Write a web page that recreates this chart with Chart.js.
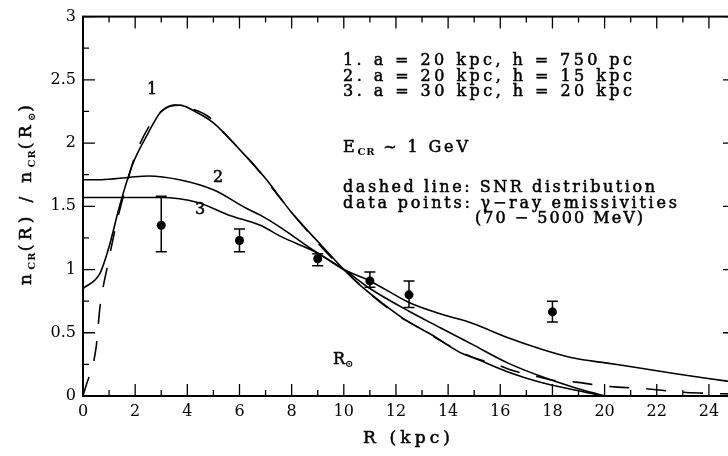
<!DOCTYPE html>
<html>
<head>
<meta charset="utf-8">
<script src="https://cdn.jsdelivr.net/npm/chart.js@4.4.1/dist/chart.umd.min.js"></script>
<style>
  html, body { margin: 0; padding: 0; background: #fff; overflow: hidden; }
  #wrap { width: 728px; height: 456px; overflow: hidden; }
</style>
</head>
<body>
<div id="wrap"><canvas id="c" width="740" height="456"></canvas></div>
<script>
// galactocentric radius R (kpc) and n_CR(R)/n_CR(Rsun)
const r1 = [0, 0.65, 1.0, 1.4, 1.9, 2.45, 3.0, 3.7, 4.3, 5.0, 6.0, 7.0, 8.0, 9.1, 10.0, 10.6, 11.5, 12.3, 13.4, 14.5, 15.0, 16.3, 17.5, 18.8, 20.0];
const n1 = [0.85, 0.97, 1.18, 1.50, 1.83, 2.06, 2.25, 2.30, 2.25, 2.16, 1.95, 1.72, 1.45, 1.20, 1.00, 0.88, 0.73, 0.61, 0.48, 0.34, 0.30, 0.19, 0.11, 0.05, 0.0];

const r2 = [0, 0.7, 1.8, 2.5, 3.7, 5.0, 6.3, 6.8, 7.6, 8.7, 10.0, 11.0, 12.5, 13.7, 15.0, 16.3, 17.5, 18.8, 20.0];
const n2 = [1.71, 1.71, 1.73, 1.74, 1.71, 1.63, 1.48, 1.43, 1.33, 1.17, 1.00, 0.85, 0.67, 0.54, 0.40, 0.26, 0.16, 0.07, 0.0];

const r3 = [0, 0.3, 3.0, 4.4, 5.6, 6.8, 7.6, 9.0, 10.0, 11.0, 12.5, 13.7, 15.0, 16.3, 17.5, 18.8, 20.1, 21.4, 22.6, 23.9, 25.0];
const n3 = [1.57, 1.57, 1.57, 1.53, 1.43, 1.35, 1.26, 1.13, 1.00, 0.91, 0.74, 0.65, 0.57, 0.46, 0.375, 0.30, 0.26, 0.22, 0.18, 0.14, 0.11];

// SNR distribution (dashed)
const rSnr = [0, 0.1, 0.5, 0.65, 0.95, 1.3, 1.6, 2.0, 2.5, 3.0, 3.5, 4.0, 4.8, 5.5, 6.5, 7.5, 8.5, 9.5, 10.0, 11.0, 12.2, 12.8, 13.6, 14.2, 15.0, 15.7, 16.5, 17.3, 18.0, 18.9, 19.7, 20.5, 21.4, 22.1, 23.0, 23.7, 25.0];
const nSnr = [0, 0.07, 0.38, 0.70, 1.04, 1.38, 1.62, 1.90, 2.12, 2.25, 2.30, 2.28, 2.21, 2.06, 1.84, 1.58, 1.33, 1.10, 1.00, 0.81, 0.62, 0.55, 0.45, 0.38, 0.30, 0.26, 0.20, 0.16, 0.125, 0.11, 0.086, 0.07, 0.06, 0.047, 0.03, 0.023, 0.015];

// gamma-ray emissivities with error bars
const rData = [3, 6, 9, 11, 12.5, 18];
const nData = [1.35, 1.23, 1.085, 0.91, 0.80, 0.665];
const nLow = [1.14, 1.14, 1.03, 0.86, 0.70, 0.585];
const nHigh = [1.58, 1.32, 1.125, 0.98, 0.91, 0.75];

const xTicks = [0, 2, 4, 6, 8, 10, 12, 14, 16, 18, 20, 22, 24];
const yTicks = [0, 0.5, 1, 1.5, 2, 2.5, 3];

const FONT = '"DejaVu Serif", serif';
const pts = (xs, ys) => xs.map((v, i) => ({ x: v, y: ys[i] }));

function fontFor(run, size) {
    return run.sub ? `bold ${Math.round(size * 0.6)}px ${FONT}` : `${size}px ${FONT}`;
}

// draws text runs char by char, stretched to a target width when given
function drawRuns(ctx, runs, x, y, size, target) {
    let w = 0, wt = 0;
    for (const r of runs) {
        ctx.font = fontFor(r, size);
        for (const ch of r.t) { w += ctx.measureText(ch).width; wt += r.sub ? 0.25 : 1; }
    }
    const sp = target ? (target - w) / (wt - 1) : 0;
    let cx = x;
    ctx.lineWidth = 0.5;
    for (const r of runs) {
        ctx.font = fontFor(r, size);
        const dy = r.sub ? size * 0.3 : 0;
        for (const ch of r.t) {
            ctx.fillText(ch, cx, y + dy);
            if (!r.sub) ctx.strokeText(ch, cx, y + dy);
            cx += ctx.measureText(ch).width + sp * (r.sub ? 0.25 : 1);
        }
    }
}

const frame = {
    id: 'frame',
    afterDatasetsDraw(chart) {
        const { ctx, chartArea: a, scales: { x, y } } = chart;
        ctx.save();
        ctx.strokeStyle = '#000';
        ctx.lineWidth = 2;
        ctx.strokeRect(a.left, a.top, a.right - a.left, a.bottom - a.top);

        // inward ticks on all four sides
        ctx.lineWidth = 1.3;
        ctx.beginPath();
        for (let v = x.min; v <= x.max; v++) {
            const px = x.getPixelForValue(v);
            const len = v % 2 === 0 ? 12 : 6;
            ctx.moveTo(px, a.bottom); ctx.lineTo(px, a.bottom - len);
            ctx.moveTo(px, a.top); ctx.lineTo(px, a.top + len);
        }
        for (let k = 0; k <= 12; k++) {
            const py = y.getPixelForValue(k * 0.25);
            const len = k % 2 === 0 ? 12 : 6;
            ctx.moveTo(a.left, py); ctx.lineTo(a.left + len, py);
            ctx.moveTo(a.right, py); ctx.lineTo(a.right - len, py);
        }
        ctx.stroke();

        // error bars
        ctx.lineWidth = 1.5;
        ctx.beginPath();
        rData.forEach((r, i) => {
            const px = x.getPixelForValue(r);
            const lo = y.getPixelForValue(nLow[i]);
            const hi = y.getPixelForValue(nHigh[i]);
            ctx.moveTo(px, lo); ctx.lineTo(px, hi);
            ctx.moveTo(px - 5.5, lo); ctx.lineTo(px + 5.5, lo);
            ctx.moveTo(px - 5.5, hi); ctx.lineTo(px + 5.5, hi);
        });
        ctx.stroke();
        ctx.restore();
    },
    afterDraw(chart) {
        const ctx = chart.ctx;
        ctx.save();
        ctx.fillStyle = '#000';
        ctx.strokeStyle = '#000';
        ctx.textBaseline = 'middle';
        ctx.textAlign = 'left';

        drawRuns(ctx, [{ t: '1. a = 20 kpc, h = 750 pc' }], 343, 61, 16, 289);
        drawRuns(ctx, [{ t: '2. a = 20 kpc, h = 15 kpc' }], 343, 77, 16, 289);
        drawRuns(ctx, [{ t: '3. a = 30 kpc, h = 20 kpc' }], 343, 92, 16, 289);
        drawRuns(ctx, [{ t: 'E' }, { t: 'CR', sub: true }, { t: ' ~ 1 GeV' }], 343, 148, 16, 125);
        drawRuns(ctx, [{ t: 'dashed line: SNR distribution' }], 343, 188, 16, 312);
        drawRuns(ctx, [{ t: 'data points: \u03b3\u2212ray emissivities' }], 343, 204, 16, 334);
        drawRuns(ctx, [{ t: '(70 \u2212 5000 MeV)' }], 475, 219, 16, 168);

        // curve labels
        drawRuns(ctx, [{ t: '1' }], 147, 90, 16);
        drawRuns(ctx, [{ t: '2' }], 213, 178, 16);
        drawRuns(ctx, [{ t: '3' }], 195, 210, 16);
        drawRuns(ctx, [{ t: 'R' }, { t: '\u2299', sub: true }], 333, 360, 16);

        // axis titles
        drawRuns(ctx, [{ t: 'R (kpc)' }], 363, 439, 17, 87);
        ctx.translate(27, 195);
        ctx.rotate(-Math.PI / 2);
        drawRuns(ctx, [{ t: 'n' }, { t: 'CR', sub: true }, { t: '(R) / n' }, { t: 'CR', sub: true },
                       { t: '(R' }, { t: '\u2299', sub: true }, { t: ')' }], -90, 0, 17, 180);
        ctx.restore();
    }
};

Chart.defaults.font.family = FONT;
Chart.defaults.font.size = 16;
Chart.defaults.color = '#000';

const line = (data, dash) => ({
    data, showLine: true, pointRadius: 0, borderColor: '#000', borderWidth: 1.6,
    borderDash: dash || [], cubicInterpolationMode: 'monotone', fill: false
});

new Chart(document.getElementById('c'), {
    type: 'scatter',
    data: {
        datasets: [
            line(pts(r1, n1)),
            line(pts(r2, n2)),
            line(pts(r3, n3)),
            line(pts(rSnr, nSnr), [20, 17]),
            {
                data: pts(rData, nData), showLine: false, pointRadius: 4.5,
                pointBackgroundColor: '#000', pointBorderColor: '#000', pointBorderWidth: 0
            }
        ]
    },
    options: {
        responsive: false,
        animation: false,
        layout: { padding: { top: 12, right: 5, left: 0, bottom: 0 } },
        plugins: { legend: { display: false }, tooltip: { enabled: false } },
        scales: {
            x: {
                type: 'linear', min: 0, max: 25,
                grid: { display: false, drawTicks: false }, border: { display: false },
                afterBuildTicks: s => { s.ticks = xTicks.map(v => ({ value: v })); },
                afterFit: s => { s.height = 60; },
                ticks: { padding: 6, maxRotation: 0, callback: v => String(v) }
            },
            y: {
                type: 'linear', min: 0, max: 3,
                grid: { display: false, drawTicks: false }, border: { display: false },
                afterBuildTicks: s => { s.ticks = yTicks.map(v => ({ value: v })); },
                afterFit: s => { s.width = 83; },
                ticks: { padding: 7, callback: v => String(v) }
            }
        }
    },
    plugins: [frame]
});
</script>
</body>
</html>
